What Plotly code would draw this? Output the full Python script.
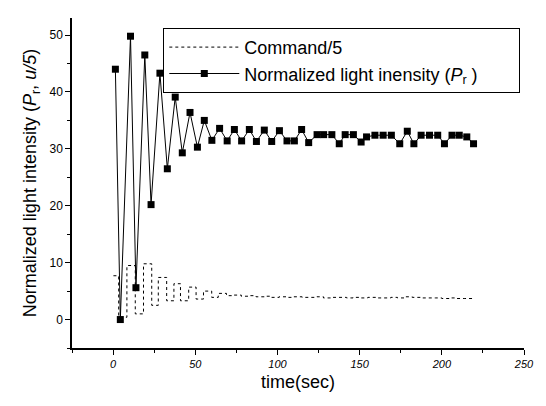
import plotly.graph_objects as go

# Normalized light intensity (markers + line)
t_light = [1.4, 4.4, 10.6, 13.9, 19.3, 23.1, 28.5, 33.0, 37.8, 42.1, 46.8, 51.3,
           55.5, 60.1, 64.8, 69.4, 73.8, 78.2, 82.9, 87.2, 92.0, 96.5, 101.2, 105.8,
           110.3, 114.7, 119.0, 124.1, 128.1, 133.1, 137.6, 141.2, 146.2, 150.9, 154.2,
           159.3, 164.3, 169.3, 174.4, 179.0, 183.0, 187.4, 192.5, 197.5, 201.6, 206.2,
           210.6, 215.2, 219.3]
v_light = [44.0, 0.0, 49.8, 5.6, 46.5, 20.2, 43.3, 26.5, 39.1, 29.3, 36.4, 30.3,
           35.0, 31.5, 33.6, 31.4, 33.4, 31.4, 33.4, 31.3, 33.3, 31.3, 33.2, 31.4,
           31.4, 33.4, 31.1, 32.5, 32.5, 32.5, 30.9, 32.5, 32.5, 31.2, 32.1,
           32.4, 32.4, 32.4, 30.9, 33.1, 30.9, 32.4, 32.4, 32.4, 30.9, 32.4,
           32.4, 32.1, 30.9]

# Command/5 (zero-order hold)
t_cmd = [0.2, 3.4, 8.4, 13.5, 18.5, 23.5, 27.5, 32.6, 37.0, 41.0, 46.0, 50.5,
         55.0, 60.0, 64.0, 69.0, 73.0, 78.0, 83.0, 87.0, 92.0, 96.0, 101.0, 106.0,
         110.0, 115.0, 119.0, 124.0, 128.0, 133.0, 137.0, 142.0, 146.0, 151.0, 155.0,
         160.0, 164.0, 169.0, 173.0, 178.0, 182.0, 187.0, 191.0, 196.0, 200.0, 205.0,
         209.0, 214.0, 219.7]
v_cmd = [7.7, 0.4, 9.5, 1.0, 9.8, 2.5, 7.4, 3.3, 6.3, 3.3, 5.7, 3.6,
         5.0, 3.9, 4.6, 4.2, 4.3, 4.1, 4.2, 4.0, 4.1, 3.9, 4.0, 3.9,
         4.0, 3.9, 3.9, 4.0, 3.8, 3.9, 3.9, 3.8, 3.9, 3.8, 3.9,
         3.8, 3.8, 3.9, 3.8, 4.0, 3.9, 3.8, 3.8, 3.8, 3.7, 3.8,
         3.7, 3.7, 3.7]

x_ticks = [0, 50, 100, 150, 200, 250]
y_ticks = [0, 10, 20, 30, 40, 50]

FONT = "Liberation Sans, Arial, sans-serif"

fig = go.Figure()
fig.add_trace(go.Scatter(
    x=t_cmd, y=v_cmd, mode="lines", line_shape="hv",
    line=dict(color="black", width=1, dash="dot"),
    name="Command/5"))
fig.add_trace(go.Scatter(
    x=t_light, y=v_light, mode="lines+markers",
    line=dict(color="black", width=1),
    marker=dict(symbol="square", size=7, color="black"),
    name="Normalized light inensity (<i>P</i><sub>r</sub> )\u2003\u2003"))

fig.update_layout(
    width=546, height=406,
    margin=dict(l=72, r=19, t=18, b=58),
    paper_bgcolor="white", plot_bgcolor="white",
    font=dict(family=FONT, color="black"),
    showlegend=True,
    legend=dict(x=0.202, y=0.97, xanchor="left", yanchor="top",
                bordercolor="black", borderwidth=1, bgcolor="white",
                font=dict(size=18, family=FONT, color="black"), itemwidth=70,
                tracegroupgap=0),
    xaxis=dict(range=[-25, 250], tickvals=x_ticks,
               ticktext=[f"<i>{v}</i>" for v in x_ticks],
               showline=True, linecolor="black", linewidth=1.5,
               ticks="outside", ticklen=5, tickcolor="black",
               minor=dict(dtick=25, ticks="outside", ticklen=3, tickcolor="black"),
               showgrid=False, zeroline=False,
               tickfont=dict(size=11, color="black"),
               title=dict(text="time(sec)", font=dict(size=18, color="black"), standoff=6)),
    yaxis=dict(range=[-5, 53], tickvals=y_ticks,
               showline=True, linecolor="black", linewidth=1.5,
               ticks="outside", ticklen=5, tickcolor="black",
               minor=dict(dtick=5, ticks="outside", ticklen=3, tickcolor="black"),
               showgrid=False, zeroline=False,
               tickfont=dict(size=12, color="black"),
               title=dict(text="Normalized light intensity (<i>P</i><sub>r</sub>, <i>u/5</i>)",
                          font=dict(size=18, color="black"), standoff=8)),
)

fig.write_html("out.html", config={"displayModeBar": False},
               post_script="document.body.style.margin='0';")
